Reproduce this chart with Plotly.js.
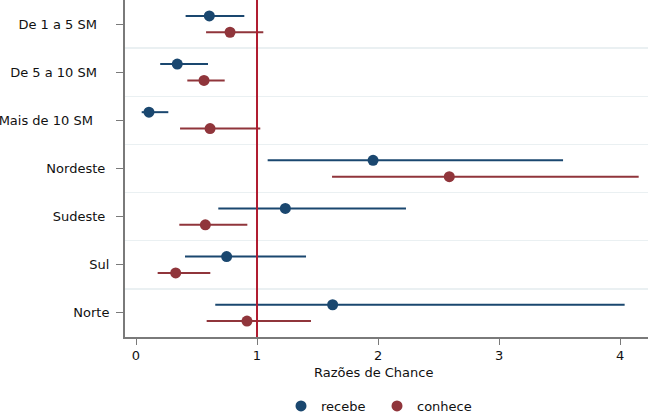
<!DOCTYPE html>
<html><head><meta charset="utf-8">
<script src="https://cdn.plot.ly/plotly-3.0.1.min.js"></script>
<style>html,body{margin:0;padding:0;background:#fff}</style>
</head><body>
<div id="chart" style="width:650px;height:413px"></div>
<script>
const categories = ["De 1 a 5 SM","De 5 a 10 SM","Mais de 10 SM","Nordeste","Sudeste","Sul","Norte"];
const labelPad = [3,3,4,1,1,0,0];
const recebeOR = [0.606,0.341,0.107,1.959,1.234,0.749,1.625];
const recebeLo = [0.41,0.20,0.047,1.088,0.68,0.405,0.655];
const recebeHi = [0.895,0.595,0.267,3.529,2.231,1.405,4.038];
const conheceOR = [0.777,0.562,0.612,2.589,0.573,0.328,0.917];
const conheceLo = [0.579,0.424,0.364,1.62,0.358,0.179,0.584];
const conheceHi = [1.052,0.733,1.027,4.154,0.92,0.614,1.446];
const xTicks = [0,1,2,3,4];
const refValue = 1;

const blue = "#1a476f", red = "#90353b";
const off = 0.17;
const idx = categories.map((c,i)=>i);

function ciTrace(lo, hi, dy, color){
  const x=[], y=[];
  idx.forEach(i=>{ x.push(lo[i],hi[i],null); y.push(i+dy,i+dy,null); });
  return {x, y, mode:"lines", line:{color, width:2}, showlegend:false, hoverinfo:"skip", type:"scatter"};
}
function ptTrace(v, dy, color, name){
  return {x:v, y:idx.map(i=>i+dy), mode:"markers", marker:{color, size:11}, name, type:"scatter"};
}
const data = [
  ciTrace(recebeLo, recebeHi, -off, blue),
  ciTrace(conheceLo, conheceHi, off, red),
  ptTrace(recebeOR, -off, blue, "recebe"),
  ptTrace(conheceOR, off, red, "conhece")
];
const W = 523, H = 337;
const layout = {
  width:650, height:413,
  margin:{l:125, r:2, t:0, b:76, autoexpand:false},
  paper_bgcolor:"#fff", plot_bgcolor:"#fff",
  font:{family:"DejaVu Sans, Verdana, sans-serif", size:13, color:"#111"},
  xaxis:{range:[-0.0909,4.231], tickvals:xTicks, ticktext:xTicks.map(String), showgrid:false, zeroline:false,
    showline:true, linecolor:"#7a7a7a", linewidth:1.5, ticks:"outside", ticklen:6, tickcolor:"#7a7a7a", tickwidth:1,
    tickfont:{size:13}},
  yaxis:{range:[6.5,-0.5], tickvals:idx, ticktext:categories.map((c,i)=>c+"\u00a0".repeat(labelPad[i])), showgrid:false, zeroline:false,
    showline:true, linecolor:"#7a7a7a", linewidth:2, ticks:"outside", ticklen:7, tickcolor:"#7a7a7a", tickwidth:1,
    tickfont:{size:13}, ticklabelstandoff:4,
    minor:{tickvals:[0.5,1.5,2.5,3.5,4.5,5.5], showgrid:true, gridcolor:"#eaf0f2", gridwidth:1.5, ticklen:0}},
  shapes:[{type:"line", xref:"x", yref:"paper", x0:refValue, x1:refValue, y0:0, y1:1, line:{color:"#b01c30", width:2}}],
  annotations:[{text:"Razões de Chance", xref:"paper", yref:"paper", x:(373-125)/W, y:-(373-H)/H, xanchor:"center", yanchor:"middle", showarrow:false, font:{size:13}}],
  legend:{orientation:"h", x:(281-125)/W, xanchor:"left", y:-(406-H)/H, yanchor:"middle", font:{size:13},
    itemwidth:30, entrywidth:51, entrywidthmode:"pixels", tracegroupgap:0}
};
Plotly.newPlot("chart", data, layout, {displayModeBar:false, staticPlot:true});
</script>
</body></html>
